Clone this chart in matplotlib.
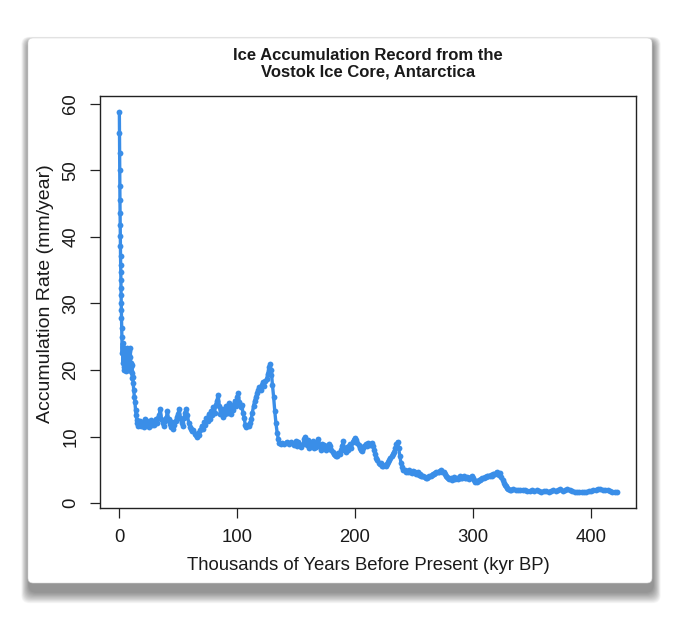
import matplotlib
matplotlib.use("Agg")
import matplotlib.pyplot as plt
from matplotlib.patches import FancyBboxPatch

# ---------------- data ----------------
spike_age = [0.3, 0.4, 0.5, 0.6, 0.7, 0.8, 0.9, 1.0, 1.1, 1.2, 1.3, 1.4, 1.5, 1.6, 1.7, 1.8, 1.9, 2.0, 2.1, 2.2]
spike_rate = [58.8, 55.7, 52.7, 50.1, 47.7, 45.6, 43.6, 41.8, 40.1, 38.6, 37.2, 35.8, 34.8, 33.5, 32.3, 31.3, 30.0, 29.0, 27.8, 26.3]

holo_age = [2.4, 2.7, 3.0, 3.3, 3.6, 3.9, 4.2, 4.5, 4.8, 5.1, 5.4, 5.7, 6.0, 6.3, 6.6, 6.9, 7.2, 7.5, 7.8, 8.1,
            8.4, 8.7, 9.0, 9.3, 9.6, 9.9, 10.2, 10.5, 10.8, 11.1, 11.4, 11.7, 12.0, 12.5, 13.0, 13.5, 14.0, 14.5,
            15.0, 15.5, 16.0]
holo_rate = [25.0, 22.5, 24.0, 21.0, 23.5, 20.5, 22.0, 20.0, 21.5, 23.0, 20.5, 19.8, 21.0, 22.5, 20.5, 23.3, 21.5,
             20.0, 21.8, 20.5, 22.8, 21.0, 20.0, 22.0, 23.3, 21.0, 20.5, 19.8, 20.8, 19.5, 18.8, 19.0, 18.0, 17.0,
             16.0, 15.2, 14.0, 13.2, 12.5, 12.0, 11.6]

glac_age = [17, 18, 19, 20, 21, 22, 23, 24, 25, 26, 27, 28, 29, 30, 31, 32, 33, 34, 35, 36, 37, 38, 39, 40, 41,
            42, 43, 44, 45, 46, 47, 48, 49, 50, 51, 52, 53, 54, 55, 56, 57, 58, 59, 60, 61, 62, 63, 64, 65, 66,
            67, 68, 69, 70, 71, 72, 73, 74, 75, 76, 77, 78, 79, 80, 81, 82, 83, 84, 85, 86, 87, 88, 89, 90, 91,
            92, 93, 94, 95, 96, 97, 98, 99, 100, 101, 102, 103, 104, 105, 106, 107, 108, 109, 110, 111, 112, 113,
            114, 115, 116, 117, 118, 119, 120, 121, 122, 123, 124, 125, 126, 127, 128, 128.5, 129, 130, 131, 132,
            133, 134, 135, 136, 137]
glac_rate = [11.8, 12.4, 11.6, 12.2, 11.5, 12.6, 11.9, 12.3, 11.4, 12.0, 12.5, 11.7, 12.2, 11.8, 12.6, 12.0, 12.8,
             13.2, 14.2, 12.6, 12.0, 11.6, 12.4, 12.8, 13.8, 12.6, 11.9, 11.5, 12.2, 11.1, 11.8, 12.4, 12.9, 13.4,
             14.2, 12.8, 12.0, 11.6, 12.8, 13.6, 14.2, 13.2, 12.1, 11.5, 11.2, 10.8, 11.0, 10.4, 10.2, 10.0, 10.6,
             10.3, 11.0, 11.6, 11.2, 12.2, 11.8, 12.8, 12.4, 13.4, 12.6, 13.8, 13.2, 14.5, 13.6, 14.8, 15.4, 16.3,
             14.6, 13.4, 14.2, 12.9, 14.0, 13.4, 14.6, 13.6, 15.0, 14.2, 13.4, 14.8, 14.0, 15.4, 14.6, 16.0, 16.5,
             15.2, 14.4, 14.8, 13.6, 12.8, 11.8, 11.4, 11.8, 11.6, 12.0, 12.6, 13.6, 14.6, 15.4, 16.0, 16.6, 17.0,
             17.4, 17.0, 17.8, 18.2, 17.6, 18.4, 18.6, 19.4, 20.4, 20.9, 19.2, 20.0, 17.8, 16.0, 13.8, 12.0, 10.6,
             9.6, 9.0, 8.8]

mid_age = [138, 140, 142, 144, 146, 148, 150, 151, 152, 154, 156, 157, 158, 159, 160, 161, 162, 163, 164, 165, 166,
           167, 168, 169, 170, 171, 172, 173, 174, 175, 176, 177, 178, 179, 180, 181, 182, 183, 184, 185, 186, 187,
           188, 189, 190, 191, 192, 193, 194, 195, 196, 197, 198, 199, 200, 201, 202, 203, 204, 205, 206, 207, 208,
           209, 210, 211, 212, 213, 214, 215, 216, 217, 218, 219, 220, 221, 222, 223, 224, 225, 226, 227, 228, 229,
           230, 231, 232, 233, 234, 235, 236, 237, 238, 239, 240]
mid_rate = [9.0, 8.8, 9.2, 8.9, 9.1, 8.7, 9.3, 8.6, 9.2, 8.4, 8.9, 9.6, 10.0, 8.7, 9.4, 8.3, 9.0, 8.6, 9.3, 8.2,
            8.8, 8.4, 9.2, 9.6, 8.6, 8.0, 8.8, 8.3, 8.7, 8.0, 8.6, 8.2, 8.9, 8.5, 7.9, 7.6, 7.4, 7.2, 7.0, 7.1, 7.5,
            7.3, 8.0, 8.6, 9.3, 8.0, 7.6, 8.4, 7.9, 8.5, 8.8, 8.3, 9.2, 9.5, 9.8, 9.4, 9.0, 8.7, 8.3, 8.0, 7.8, 8.2,
            8.5, 8.8, 8.6, 9.0, 8.9, 8.7, 9.0, 8.6, 8.0, 7.4, 6.8, 6.4, 6.0, 5.8, 6.0, 5.6, 5.5, 5.7, 5.5, 5.9, 6.2,
            6.4, 6.8, 7.0, 7.3, 7.7, 8.2, 8.8, 9.2, 8.2, 7.0, 6.0, 5.4]

old_age = [241, 242, 243, 244, 245, 246, 247, 248, 249, 250, 251, 252, 253, 254, 255, 256, 257, 258, 259, 260, 261,
           262, 263, 264, 265, 266, 267, 268, 269, 270, 271, 272, 273, 274, 275, 276, 277, 278, 279, 280, 281, 282,
           283, 284, 285, 286, 287, 288, 289, 290, 291, 292, 293, 294, 295, 296, 297, 298, 299, 300, 301, 302, 303,
           304, 305, 306, 307, 308, 309, 310, 311, 312, 313, 314, 315, 316, 317, 318, 319, 320, 321, 322, 323, 324,
           325, 326, 327, 328, 329, 330, 331, 332]
old_rate = [5.0, 4.9, 4.7, 4.8, 4.6, 4.9, 4.6, 4.5, 4.8, 4.6, 4.7, 4.4, 4.6, 4.2, 4.3, 4.1, 4.0, 4.0, 3.9, 3.8, 3.8,
            3.9, 4.0, 4.1, 4.2, 4.3, 4.4, 4.5, 4.6, 4.7, 4.6, 4.8, 4.9, 4.7, 4.6, 4.3, 4.1, 3.9, 3.8, 3.6, 3.7, 3.5,
            3.6, 3.9, 3.6, 3.8, 3.6, 3.7, 4.0, 3.7, 3.8, 4.1, 3.8, 3.7, 3.9, 3.8, 3.6, 3.9, 4.0, 3.8, 3.5, 3.2, 3.1,
            3.3, 3.4, 3.5, 3.6, 3.7, 3.8, 3.9, 3.9, 4.0, 4.0, 4.1, 4.2, 4.1, 4.3, 4.4, 4.3, 4.7, 4.4, 4.2, 4.5, 3.9,
            3.4, 3.0, 2.7, 2.5, 2.3, 2.1, 2.0, 2.0]

deep_age = [334, 336, 338, 340, 342, 344, 346, 348, 350, 352, 354, 356, 358, 360, 362, 364, 366, 368, 370, 372, 374,
            376, 378, 380, 382, 384, 386, 388, 390, 392, 394, 396, 398, 400, 402, 404, 406, 408, 410, 412, 414, 416,
            418, 420, 422]
deep_rate = [2.1, 2.0, 1.9, 2.0, 1.9, 1.9, 1.8, 1.8, 1.9, 1.8, 1.9, 1.8, 1.7, 1.8, 1.8, 1.7, 1.8, 1.9, 1.8, 1.9,
             2.1, 1.8, 1.9, 2.1, 2.0, 1.8, 1.7, 1.6, 1.6, 1.7, 1.6, 1.7, 1.8, 1.8, 1.9, 2.0, 2.1, 2.1, 2.0, 2.0, 1.9,
             1.8, 1.7, 1.6, 1.6]

age_kyr = spike_age + holo_age + glac_age + mid_age + old_age + deep_age
accum_rate = spike_rate + holo_rate + glac_rate + mid_rate + old_rate + deep_rate

x_ticks = [0, 100, 200, 300, 400]
y_ticks = [0, 10, 20, 30, 40, 50, 60]
title = "Ice Accumulation Record from the\nVostok Ice Core, Antarctica"
x_label = "Thousands of Years Before Present (kyr BP)"
y_label = "Accumulation Rate (mm/year)"

# ---------------- figure ----------------
W, H = 680, 619
plt.rcParams['font.family'] = ['Liberation Sans', 'DejaVu Sans']
fig = plt.figure(figsize=(W / 100, H / 100), dpi=100)
fig.patch.set_facecolor('white')

# background card with drop shadow (pixel coordinates)
bg = fig.add_axes([0, 0, 1, 1], zorder=-5)
bg.set_xlim(0, W)
bg.set_ylim(H, 0)
bg.axis('off')
card_l, card_t, card_r, card_b = 28, 38, 652, 583
for i in range(14):
    grow = 14 - i
    bg.add_patch(FancyBboxPatch((card_l - grow * 0.55 + 1, card_t + 3 - grow * 0.3),
                                (card_r - card_l) + grow * 1.1, (card_b - card_t) + 6 + grow * 1.1,
                                boxstyle="round,pad=0,rounding_size=8",
                                facecolor='black', edgecolor='none', alpha=0.035))
bg.add_patch(FancyBboxPatch((card_l, card_t), card_r - card_l, card_b - card_t,
                            boxstyle="round,pad=0,rounding_size=5",
                            facecolor='white', edgecolor='#d8d8d8', linewidth=0.4))

# main axes
ax_l, ax_r, ax_t, ax_b = 100, 636, 96, 508
ax = fig.add_axes([ax_l / W, 1 - ax_b / H, (ax_r - ax_l) / W, (ax_b - ax_t) / H])
ax.set_facecolor('white')
ax.plot(age_kyr, accum_rate, color='#3a8ee8', lw=2.4, marker='o', ms=4.2, mew=0,
        solid_joinstyle='round', solid_capstyle='round')
ax.set_xlim(-16.1, 438.1)
ax.set_ylim(-0.75, 61.2)
ax.set_xticks(x_ticks)
ax.set_yticks(y_ticks)
ax.tick_params(direction='out', length=7.5, width=0.9, color='#222222', labelsize=13.3,
               labelcolor='#1a1a1a')
ax.tick_params(axis='x', pad=7.5)
ax.tick_params(axis='y', pad=7.5)
for lab in ax.get_yticklabels():
    lab.set_rotation(90)
    lab.set_va('center')
for s in ax.spines.values():
    s.set_linewidth(1.0)
    s.set_color('#222222')

fig.text((ax_l + ax_r) / 2 / W, 1 - 565 / H, x_label, ha='center', va='center', fontsize=13.3, color='#1a1a1a')
fig.text(45.5 / W, 1 - 294 / H, y_label, ha='center', va='center', rotation=90, fontsize=14, color='#1a1a1a')
fig.text((ax_l + ax_r) / 2 / W, 1 - 64 / H, title, ha='center', va='center', fontsize=12,
         fontweight='bold', color='#1a1a1a', linespacing=1.1)

fig.savefig('out.png', dpi=100, facecolor='white')
